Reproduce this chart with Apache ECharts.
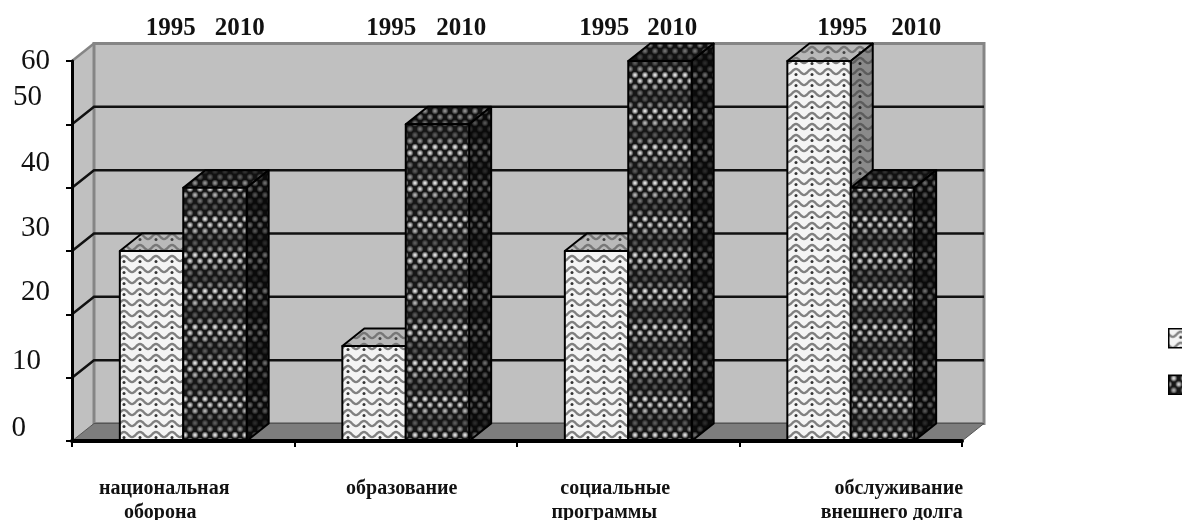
<!DOCTYPE html>
<html><head><meta charset="utf-8">
<style>html,body{margin:0;padding:0;background:#fff;overflow:hidden}#c{width:1182px;height:520px;filter:blur(0.5px)}</style>
<script src="https://cdn.jsdelivr.net/npm/echarts@6/dist/echarts.min.js"></script>
</head><body><div id="c"></div>
<script>
const categories = ['национальная\nоборона','образование','социальные\nпрограммы','обслуживание\nвнешнего долга'];
const values1995 = [30,15,30,60];
const values2010 = [40,50,60,40];
const yTickValues = [0,10,20,30,40,50,60];
const yTickLabels = ['0','10','20','30','40','50','60'];
const yearNames = ['1995','2010'];

// layout: labels in the picture are hand-placed away from their ticks
const yLabelAt = [2.05,12.5,23.5,33.6,43.9,54.3,60];
const yLabelPad = [24,9,0,0,0,8,0];
const catLineShift = [[-19,-23],[-4],[-13,-24],[48,41]];
const yearOffset = [[-12.5,56.5],[-14.5,55.5],[-24,44],[-8.5,65.5]];
const DX = 22, DY = 17.5;

function tile(w,h,draw){
  const c=document.createElement('canvas');c.width=w;c.height=h;draw(c.getContext('2d'),w,h);
  return {image:c,repeat:'repeat'};
}
function wave(bg,line,dot){
  return tile(16,11,(x,w,h)=>{
    x.fillStyle=bg;x.fillRect(0,0,w,h);
    x.strokeStyle=line;x.lineWidth=2.4;
    for(const oy of [-11,0,11]){
      x.beginPath();
      for(let p=-1;p<=17;p++){const yy=5.5+oy+2.6*Math.sin(p/16*2*Math.PI);p===-1?x.moveTo(p,yy):x.lineTo(p,yy);}
      x.stroke();
    }
    x.fillStyle=dot;x.beginPath();x.arc(12,8.4,1.5,0,7);x.fill();
  });
}
function dots(bg,level){
  const rows=[1,.95,.78,.5,.4,.65];
  return tile(10,36,(x,w,h)=>{
    x.fillStyle=bg;x.fillRect(0,0,w,h);
    rows.forEach((b,r)=>{
      const cy=r*6+3;
      for(const cx of (r%2?[0,10]:[5])){
        const g=x.createRadialGradient(cx,cy,0.2,cx,cy,3.6);
        const v=Math.round(255*b*level);
        g.addColorStop(0,`rgba(${v},${v},${v},1)`);
        g.addColorStop(.5,`rgba(${v},${v},${v},.6)`);
        g.addColorStop(1,`rgba(${v},${v},${v},0)`);
        x.fillStyle=g;x.fillRect(cx-4,cy-4,8,8);
      }
    });
  });
}
const lightFront=wave('#f4f4f4','#808080','#333');
const lightTop=wave('#b9b9b9','#777','#444');
const lightSide=wave('#8a8a8a','#5c5c5c','#222');
const darkFront=dots('#161616',.95);
const darkTop=dots('#111',.6);
const darkSide=dots('#0a0a0a',.45);

function poly(points,fill){
  return {type:'polygon',shape:{points},style:{fill,stroke:'#000',lineWidth:2,lineJoin:'round'}};
}
function barRenderer(idx,front,top,side){
  return (params,api)=>{
    const i=api.value(0),v=api.value(1);
    const base=api.coord([i,0]),head=api.coord([i,v]);
    const bw=api.size([1,0])[0]*0.285;
    const l=base[0]+(idx===0?-bw:0),r=l+bw,b=base[1],t=head[1];
    return {type:'group',children:[
      poly([[l,t],[r,t],[r+DX,t-DY],[l+DX,t-DY]],top),
      poly([[r,t],[r+DX,t-DY],[r+DX,b-DY],[r,b]],side),
      poly([[l,t],[r,t],[r,b],[l,b]],front)
    ]};
  };
}
function wallRenderer(params,api){
  const c=params.coordSys,L=c.x,R=c.x+c.width;
  const y=v=>api.coord([0,v])[1];
  const y0=y(0),yT=y(60);
  const kids=[
    {type:'polygon',shape:{points:[[L,y0],[L+DX,y0-DY],[L+DX,yT-DY],[L,yT]]},style:{fill:'#c0c0c0'}},
    {type:'polygon',shape:{points:[[L+DX,y0-DY],[R+DX,y0-DY],[R+DX,yT-DY],[L+DX,yT-DY]]},style:{fill:'#c0c0c0',stroke:'#858585',lineWidth:3}},
    {type:'polygon',shape:{points:[[L,y0],[L+DX,y0-DY],[R+DX,y0-DY],[R,y0]]},style:{fill:'#7d7d7d',stroke:'#555',lineWidth:1}},
    {type:'polyline',shape:{points:[[L,yT],[L+DX,yT-DY]]},style:{stroke:'#858585',lineWidth:2.5,fill:null}}
  ];
  yTickValues.slice(1,-1).forEach(v=>{
    kids.push({type:'polyline',shape:{points:[[L,y(v)],[L+DX,y(v)-DY],[R+DX,y(v)-DY]]},style:{stroke:'#111',lineWidth:2.5,fill:null}});
  });
  return {type:'group',children:kids};
}
function yearRenderer(params,api){
  const i=api.value(0),p=api.coord([i,60]);
  return {type:'group',children:yearNames.map((n,k)=>({
    type:'text',x:p[0]+yearOffset[i][k],y:p[1]-32,
    style:{text:n,fill:'#111',font:'bold 25px "Liberation Serif"',align:'center',verticalAlign:'middle'}
  }))};
}
const catRich={};
catLineShift.forEach((ls,i)=>ls.forEach((s,j)=>{
  catRich['c'+i+'l'+j]={fontFamily:'Liberation Serif',fontWeight:'bold',fontSize:20,color:'#111',lineHeight:24,
    padding:[0,s<0?-2*s:0,0,s>0?2*s:0]};
}));
const chart=echarts.init(document.getElementById('c'));
const yRich={};
[0,8,9,24].forEach(p=>yRich['p'+p]={fontFamily:'Liberation Serif',fontSize:29,color:'#111',padding:[0,p,0,0]});
chart.setOption({
  animation:false,
  backgroundColor:'#fff',
  grid:{left:72,top:61,width:890,height:380,outerBoundsMode:'none'},
  legend:{data:yearNames.map(n=>({name:n,icon:'rect'})),orient:'vertical',left:1163,top:323,itemWidth:19,itemHeight:19,itemGap:26,
    formatter:()=>'',itemStyle:{borderColor:'#000',borderWidth:1.5},selectedMode:false},
  xAxis:{type:'category',data:categories,z:10,
    axisLine:{lineStyle:{color:'#000',width:4}},
    axisTick:{show:true,length:6,lineStyle:{color:'#000',width:2}},
    axisLabel:{interval:0,margin:36,
      formatter:(s)=>{const i=categories.indexOf(s);return s.split('\n').map((t,j)=>`{c${i}l${j}|${t}}`).join('\n');},
      rich:catRich}},
  yAxis:{type:'value',min:0,max:60,interval:10,z:10,
    axisLine:{show:true,lineStyle:{color:'#000',width:3}},
    axisTick:{show:true,length:6,customValues:yTickValues,lineStyle:{color:'#000',width:2}},
    splitLine:{show:false},
    axisLabel:{margin:22,customValues:yLabelAt,align:'right',
      formatter:(v,i)=>{const k=yLabelAt.indexOf(v);return `{p${yLabelPad[k]}|${yTickLabels[k]}}`;},
      rich:yRich}},
  series:[
    {type:'custom',name:'wall',silent:true,z:1,data:[[0,0]],renderItem:wallRenderer,encode:{x:0,y:1}},
    {type:'custom',name:'1995',z:2,itemStyle:{color:lightFront},data:values1995.map((v,i)=>[i,v]),
      renderItem:barRenderer(0,lightFront,lightTop,lightSide),encode:{x:0,y:1}},
    {type:'custom',name:'2010',z:3,itemStyle:{color:darkFront},data:values2010.map((v,i)=>[i,v]),
      renderItem:barRenderer(1,darkFront,darkTop,darkSide),encode:{x:0,y:1}},
    {type:'custom',name:'years',silent:true,z:4,data:categories.map((c,i)=>[i,60]),renderItem:yearRenderer,encode:{x:0,y:1},clip:false}
  ]
});
</script></body></html>
